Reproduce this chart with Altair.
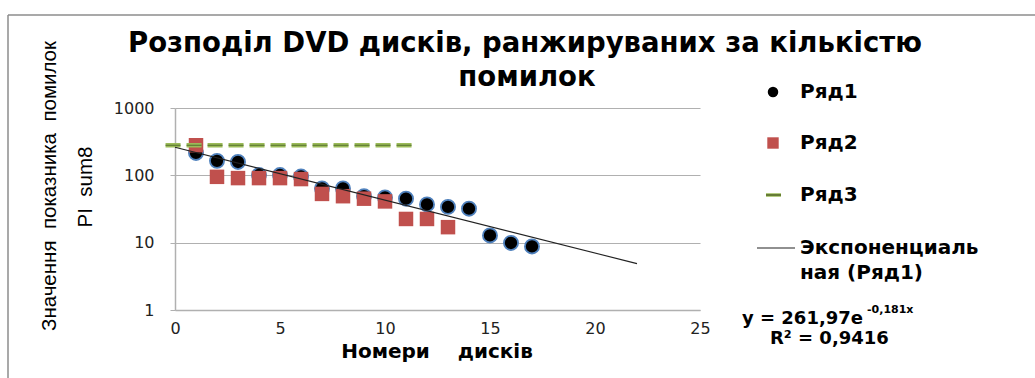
import altair as alt
import pandas as pd
import math

# ---- data ----
ryad1_x = list(range(1, 18))
ryad1_y = [215, 164, 158, 101, 101, 96, 64, 64, 49, 47, 45, 37, 34, 32, 12.8, 9.9, 8.8]

ryad2_x = list(range(1, 14))
ryad2_y = [280, 95, 91, 91, 91, 88, 53, 49, 45, 41, 22.5, 22.5, 17]

ryad3_x = [-0.45, 11.3]
ryad3_y = [280, 280]

trend_a = 261.97
trend_b = -0.181
trend_x = [0, 22]

x_ticks = [0, 5, 10, 15, 20, 25]
y_ticks = [1, 10, 100, 1000]

NB = "\u00a0"
title_lines = ["Розподіл DVD дисків, ранжируваних за кількістю", "помилок"]
x_title = "Номери" + NB * 4 + "дисків"
y_title = ["Значення" + NB * 2 + "показника" + NB * 2 + "помилок", "PI" + NB * 2 + "sum8"]

legend_labels = ["Ряд1", "Ряд2", "Ряд3", "Экспоненциаль", "ная (Ряд1)"]
eq_main = "y = 261,97e"
eq_sup = "-0,181x"
r2_text = "R² = 0,9416"

# ---- tables ----
df1 = pd.DataFrame({"x": ryad1_x, "y": ryad1_y})
df2 = pd.DataFrame({"x": ryad2_x, "y": ryad2_y})
df3 = pd.DataFrame({"x": ryad3_x, "y": ryad3_y})
dft = pd.DataFrame({"x": trend_x, "y": [trend_a * math.exp(trend_b * v) for v in trend_x]})

W, H = 525, 202
GRID = "#b0b0b0"
FB = "DejaVu Sans"

xs = alt.Scale(domain=[0, 25], nice=False, zero=False)
ys = alt.Scale(type="log", domain=[1, 1000], nice=False)

xenc = alt.X("x:Q", scale=xs,
             axis=alt.Axis(values=x_ticks, title=None, grid=False, ticks=False,
                           labelFont=FB, labelFontSize=16, labelColor="#222",
                           labelFlush=False, labelPadding=10,
                           domainColor=GRID, domainWidth=1.5))
yenc = alt.Y("y:Q", scale=ys,
             axis=alt.Axis(values=y_ticks, format="d", title=None, grid=True,
                           gridColor=GRID, gridWidth=1.2, tickColor=GRID, tickSize=5,
                           labelFont=FB, labelFontSize=16, labelColor="#222",
                           labelFlush=False, labelPadding=16,
                           domainColor=GRID, domainWidth=1.5))

base_axes = alt.Chart(df1).mark_point(opacity=0).encode(x=xenc, y=yenc)

circles = alt.Chart(df1).mark_point(shape="circle", filled=False, fill="black",
                                    fillOpacity=1, stroke="#4F81BD", strokeWidth=1.8,
                                    size=200, opacity=1).encode(x="x:Q", y="y:Q")
squares = alt.Chart(df2).mark_point(shape="square", filled=True, color="#C0504D",
                                    size=210, opacity=1).encode(x="x:Q", y="y:Q")
dash_outer = alt.Chart(df3).mark_line(color="#9BBB59", strokeWidth=4.5,
                                      strokeDash=[15, 6]).encode(x="x:Q", y="y:Q")
dash_inner = alt.Chart(df3).mark_line(color="#55702c", strokeWidth=1.2,
                                      strokeDash=[15, 6]).encode(x="x:Q", y="y:Q")
trend = alt.Chart(dft).mark_line(color="#222", strokeWidth=1.1).encode(x="x:Q", y="y:Q")

one = alt.Data(values=[{"a": 1}])


def txt(s, x, y, size, bold=False, font=FB, align="center", angle=None, color="#000"):
    kw = dict(fontSize=size, font=font, fontWeight="bold" if bold else "normal",
              align=align, baseline="middle", color=color)
    if angle is not None:
        kw["angle"] = angle
    return alt.Chart(one).mark_text(**kw).encode(x=alt.value(x), y=alt.value(y), text=alt.value(s))


def rule(x1, x2, y1, y2, color="#000", width=1.0):
    return alt.Chart(one).mark_rule(color=color, strokeWidth=width).encode(
        x=alt.value(x1), x2=alt.value(x2), y=alt.value(y1), y2=alt.value(y2))


OX, OY = 175, 108  # plot origin on the page

layers = [base_axes, circles, squares, dash_outer, dash_inner, trend]

# frame
layers.append(rule(8 - OX, 1040 - OX, 15 - OY, 15 - OY, color="#8c8c8c", width=1.5))
layers.append(rule(8 - OX, 8 - OX, 15 - OY, 380 - OY, color="#8c8c8c", width=1.5))

# titles
layers.append(txt(title_lines[0], 525 - OX, 44 - OY, 27.5, bold=True))
layers.append(txt(title_lines[1], 527 - OX, 78 - OY, 27.5, bold=True))
layers.append(txt(x_title, 437 - OX, 352 - OY, 20, bold=True))
layers.append(txt(y_title[0], 50 - OX, 186 - OY, 20.5, font="Liberation Sans", angle=270))
layers.append(txt(y_title[1], 86 - OX, 187 - OY, 20.5, font="Liberation Sans", angle=270))

# legend
layers.append(alt.Chart(one).mark_point(shape="circle", filled=True, color="black", size=110,
                                        opacity=1).encode(x=alt.value(773 - OX), y=alt.value(92 - OY)))
layers.append(alt.Chart(one).mark_point(shape="square", filled=True, color="#C0504D", size=130,
                                        opacity=1).encode(x=alt.value(773 - OX), y=alt.value(143 - OY)))
layers.append(rule(766 - OX, 781 - OX, 195 - OY, 195 - OY, color="#9BBB59", width=3.5))
layers.append(rule(766 - OX, 781 - OX, 195 - OY, 195 - OY, color="#4F6228", width=1.4))
layers.append(rule(757 - OX, 795 - OX, 248 - OY, 248 - OY, color="#222", width=1.1))

LX = 800 - OX
layers.append(txt(legend_labels[0], LX, 92 - OY, 20, bold=True, align="left"))
layers.append(txt(legend_labels[1], LX, 143 - OY, 20, bold=True, align="left"))
layers.append(txt(legend_labels[2], LX, 195 - OY, 20, bold=True, align="left"))
layers.append(txt(legend_labels[3], LX, 248 - OY, 20, bold=True, align="left"))
layers.append(txt(legend_labels[4], LX, 273 - OY, 20, bold=True, align="left"))

# equation
layers.append(txt(eq_main, 742 - OX, 319 - OY, 18, bold=True, align="left"))
layers.append(txt(eq_sup, 867 - OX, 310 - OY, 11, bold=True, align="left"))
layers.append(txt(r2_text, 770 - OX, 339 - OY, 18, bold=True, align="left"))

chart = alt.layer(*layers).properties(
    width=W, height=H,
    autosize=alt.AutoSizeParams(type="none"),
    padding={"left": OX, "top": OY, "right": 1035 - OX - W, "bottom": 378 - OY - H},
    background="white",
).configure_view(stroke=None)

chart.save("out.html", embed_options={"renderer": "svg", "actions": False})
